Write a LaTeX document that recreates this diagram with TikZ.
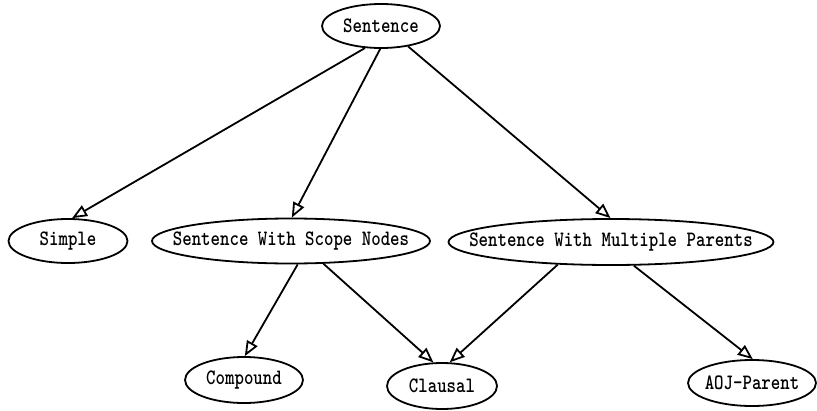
\documentclass[tikz,border=0pt]{standalone}
\usepackage{graphicx}
\usetikzlibrary{shapes.geometric,arrows.meta}
\newcommand{\tallmono}[1]{\scalebox{1}[1.22]{\bfseries #1}}
\begin{document}
\begin{tikzpicture}[x=1pt,y=-1pt,
  every node/.style={font=\ttfamily\fontsize{18}{18}\selectfont},
  oval/.style n args={3}{ellipse, draw, line width=1.8pt, inner sep=0pt,
    minimum width=#1pt, minimum height=#2pt,
    label={[inner sep=0pt]center:\tallmono{#3}}},
  edge/.style={line width=1.8pt,
    -{Triangle[open, length=15pt, width=12pt, fill=white]}}]
\useasboundingbox (0,0) rectangle (817,410);

% ellipses are sized explicitly; their captions sit on top as labels
\node[oval={118}{44}{Sentence}]                       (sentence) at (381,26)  {};
\node[oval={119}{44}{Simple}]                         (simple)   at (68,241)  {};
\node[oval={278}{45}{Sentence With Scope Nodes}]      (scope)    at (291,241) {};
\node[oval={325}{46}{Sentence With Multiple Parents}] (multi)    at (611,242) {};
\node[oval={118}{46}{Compound}]                       (compound) at (244,380) {};
\node[oval={110}{46}{Clausal}]                        (clausal)  at (442,386) {};
\node[oval={128}{46}{AOJ-Parent}]                     (aoj)      at (752,383) {};

\draw[edge] (sentence.234) -- (simple.80);
\draw[edge] (sentence.268) -- (scope.88);
\draw[edge] (sentence.323) -- (multi.91);
\draw[edge] (scope.286) -- (compound.88);
\draw[edge] (scope.325) -- (clausal.110);
\draw[edge] (multi.203) -- (clausal.72);
\draw[edge] (multi.314) -- (aoj.88);
\end{tikzpicture}
\end{document}
